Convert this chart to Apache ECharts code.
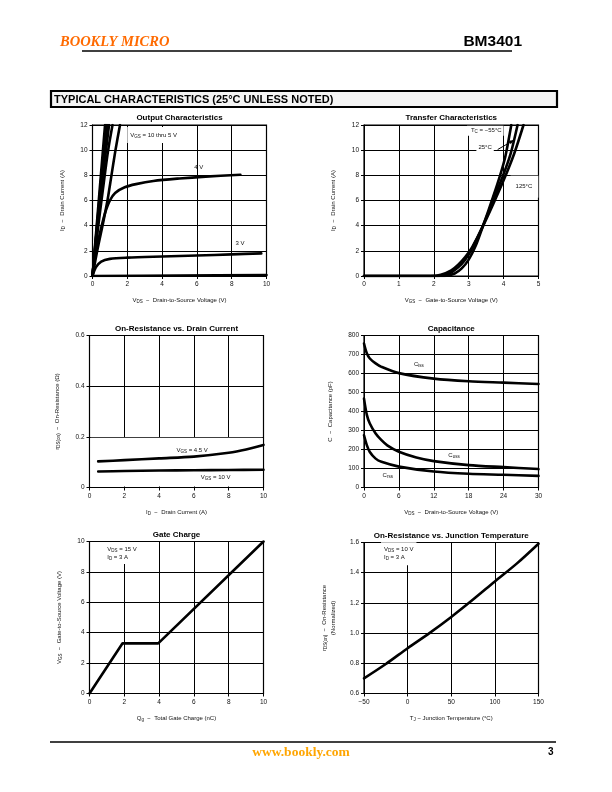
<!DOCTYPE html>
<html><head><meta charset="utf-8">
<script src="https://cdn.jsdelivr.net/npm/echarts@6/dist/echarts.min.js"></script>
<style>html,body{margin:0;padding:0;background:#fff}#c{width:612px;height:792px}</style>
</head><body><div id="c"></div>
<script>
// ================= DATA =================
// 1. Output characteristics (VDS [V], ID [A])
const outVgs10 = [[0,0],[0.72,12]];
const outVgs8  = [[0,0],[0.78,12]];
const outVgs7  = [[0,0],[0.85,12]];
const outVgs6  = [[0,0],[0.3,4.4],[0.62,8.2],[0.95,12]];
const outVgs5  = [[0,0],[0.3,3.6],[0.6,6.9],[0.9,10],[1.15,12]];
const outVgs45 = [[0,0],[0.3,2.2],[0.62,4.3],[0.86,6],[1.09,8],[1.32,10],[1.58,12]];
const outVgs4  = [[0,0],[0.2,2],[0.53,4],[0.72,5],[1.0,6],[1.3,6.6],[1.85,7.05],[2.5,7.3],[3.5,7.55],[5,7.75],[6.5,7.9],[8.5,8.05]];
const outVgs3  = [[0,0],[0.2,0.7],[0.5,1.15],[1,1.36],[2,1.46],[4,1.55],[6,1.63],[8,1.72],[9.7,1.8]];
const outVgs2  = [[0,0],[5,0.03],[10,0.07]];
// 2. Transfer characteristics (VGS [V], ID [A])
const trM55 = [[0,0],[2.3,0],[2.6,0.2],[2.8,0.6],[3.0,1.3],[3.2,2.4],[3.4,3.9],[3.7,6.3],[3.9,8.0],[4.05,9.5],[4.22,12]];
const tr25  = [[0,0],[2.1,0],[2.4,0.15],[2.7,0.7],[2.9,1.3],[3.1,2.2],[3.4,3.95],[3.7,6.0],[4.0,8.1],[4.2,9.7],[4.4,12]];
const tr125 = [[0,0],[1.9,0],[2.2,0.1],[2.5,0.45],[2.7,0.9],[2.9,1.5],[3.1,2.3],[3.4,3.9],[3.7,5.7],[4.0,7.6],[4.3,9.7],[4.57,12]];
// 3. On-resistance vs drain current (ID [A], rDS(on) [ohm])
const ronVgs45 = [[0.5,0.103],[2,0.108],[4,0.115],[6,0.122],[8,0.137],[9,0.150],[10,0.168]];
const ronVgs10 = [[0.5,0.063],[2,0.065],[4,0.067],[6,0.068],[8,0.069],[10,0.070]];
// 4. Capacitance (VDS [V], C [pF])
const cIss = [[0,758],[0.5,705],[1,679],[2,653],[3,635],[6,602],[12,573],[18,559],[24,552],[30,545]];
const cOss = [[0,468],[0.5,381],[1,337],[2,284],[3,249],[4,222],[6,188],[9,158],[12,139],[18,118],[24,107],[30,97]];
const cRss = [[0,275],[0.5,222],[1,187],[2,152],[3,135],[6,110],[12,84],[18,72],[24,67],[30,61]];
// 5. Gate charge (Qg [nC], VGS [V])
const gateCharge = [[0,0],[1.9,3.3],[3.95,3.3],[10,10]];
// 6. On-resistance vs junction temperature (TJ [C], normalized)
const ronTemp = [[-50,0.70],[-25,0.795],[0,0.90],[25,1.0],[50,1.107],[75,1.222],[100,1.342],[125,1.46],[150,1.592]];

// tick / axis settings
const xTicks = [[0,10,2],[0,5,1],[0,10,2],[0,30,6],[0,10,2],[-50,150,50]];
const yTicks = [[0,12,2],[0,12,2],[0,0.6,0.2],[0,800,100],[0,10,2],[0.6,1.6,0.2]];
const titles = ['Output Characteristics','Transfer Characteristics','On-Resistance vs. Drain Current','Capacitance','Gate Charge','On-Resistance vs. Junction Temperature'];
const xNames = [
  '{n|V}{s|DS}{n|  −  Drain-to-Source Voltage (V)}',
  '{n|V}{s|GS}{n|  −  Gate-to-Source Voltage (V)}',
  '{n|I}{s|D}{n|  −  Drain Current (A)}',
  '{n|V}{s|DS}{n|  −  Drain-to-Source Voltage (V)}',
  '{n|Q}{s|g}{n|  −  Total Gate Charge (nC)}',
  '{n|T}{s|J}{n| − Junction Temperature (°C)}'
];
const yNames = [
  '{n|I}{s|D}{n|  −  Drain Current (A)}',
  '{n|I}{s|D}{n|  −  Drain Current (A)}',
  '{n|r}{s|DS(on)}{n|  −  On-Resistance (Ω)}',
  '{n|C  −  Capacitance (pF)}',
  '{n|V}{s|GS}{n|  −  Gate-to-Source Voltage (V)}',
  '{n|r}{s|DS(on)}{n|  −  On-Resistance}\n{n|(Normalized)}'
];

// ================= LAYOUT =================
const FONT = "'Liberation Sans', Arial, Helvetica, sans-serif";
const SERIF = "'Liberation Serif', 'Times New Roman', serif";
const grids = [
  {left:92.5, top:125, width:174, height:151},
  {left:364, top:125, width:174.5, height:151},
  {left:89.5, top:335.5, width:174, height:152},
  {left:364, top:335.5, width:174.5, height:152},
  {left:89.5, top:541.5, width:174, height:152},
  {left:364, top:542.5, width:174.5, height:151}
];
const yNameGaps = [26, 26, 28, 29, 26, 26];
const rich = {
  n: {fontSize:6, fontFamily:FONT, color:'#111', lineHeight:9},
  s: {fontSize:4.5, fontFamily:FONT, color:'#111', padding:[3,0,0,0], lineHeight:6}
};
const fmtMinus = v => String(v).replace('-', '−');
const xFormatters = [null,null,null,null,null,fmtMinus];
const yFormatters = [null,null,null,null,null,v => v.toFixed(1)];

function axisCommon() {
  return {
    type:'value', nameLocation:'middle',
    nameTextStyle:{rich, fontFamily:FONT, fontSize:6, color:'#111'},
    axisLine:{show:true, onZero:false, lineStyle:{color:'#000', width:1}},
    axisTick:{show:true, length:3, lineStyle:{color:'#000', width:1}},
    axisLabel:{fontSize:6.5, color:'#111', fontFamily:FONT, margin:5},
    splitLine:{show:true, lineStyle:{color:'#000', width:1}}
  };
}
const xAxes = xTicks.map((t,i) => Object.assign(axisCommon(), {
  gridIndex:i, min:t[0], max:t[1], interval:t[2], name:xNames[i], nameGap:20,
  axisLabel:Object.assign(axisCommon().axisLabel, xFormatters[i] ? {formatter:xFormatters[i]} : {})
}));
const yAxes = yTicks.map((t,i) => Object.assign(axisCommon(), {
  gridIndex:i, min:t[0], max:t[1], interval:t[2], name:yNames[i], nameGap:yNameGaps[i],
  axisLabel:Object.assign(axisCommon().axisLabel, yFormatters[i] ? {formatter:yFormatters[i]} : {})
}));

function line(gi, data, smooth) {
  return {type:'line', xAxisIndex:gi, yAxisIndex:gi, data, symbol:'none', smooth: smooth === undefined ? 0.3 : smooth,
    lineStyle:{color:'#000', width:2.6, join:'round', cap:'round'}, z:3, silent:true, animation:false};
}
const series = [
  line(0,outVgs10,false), line(0,outVgs8,false), line(0,outVgs7,false), line(0,outVgs6), line(0,outVgs5),
  line(0,outVgs45), line(0,outVgs4), line(0,outVgs3), line(0,outVgs2),
  line(1,trM55), line(1,tr25), line(1,tr125),
  line(2,ronVgs45), line(2,ronVgs10),
  line(3,cIss), line(3,cOss), line(3,cRss),
  line(4,gateCharge,false),
  line(5,ronTemp)
];

const chart = echarts.init(document.getElementById('c'), null, {renderer:'canvas'});
chart.setOption({
  animation:false,
  backgroundColor:'#fff',
  grid: grids.map(g => Object.assign({show:true, borderColor:'#000', borderWidth:1.2, backgroundColor:'transparent'}, g)),
  xAxis:xAxes, yAxis:yAxes, series
});

// ================= ANNOTATIONS (data coords) =================
const P = (gi, x, y) => chart.convertToPixel({gridIndex:gi}, [x, y]);
const labelRich = {
  n:{fontSize:6, fontFamily:FONT, fill:'#111', lineHeight:8},
  s:{fontSize:4.5, fontFamily:FONT, fill:'#111', padding:[3,0,0,0], lineHeight:6}
};
const annotations = [
  {g:0, x:2.0, y:11.2, t:'{n|V}{s|GS}{n| = 10 thru 5 V}', bg:true, pad:[4,3,4,3]},
  {g:0, x:5.85, y:8.65, t:'{n|4 V}', bg:false},
  {g:0, x:8.1, y:2.6, t:'{n|3 V}', bg:true, pad:[3,2,3,2]},
  {g:1, x:2.95, y:11.55, t:'{n|T}{s|C}{n| = −55°C}', bg:true, pad:[1,2,1,4]},
  {g:1, x:3.22, y:10.2, t:'{n|25°C}', bg:true, pad:[1,2,1,2]},
  {g:1, x:4.2, y:7.1, t:'{n|125°C}', bg:true, pad:[7,6,7,5]},
  {g:2, x:5.0, y:0.147, t:'{n|V}{s|GS}{n| = 4.5 V}', bg:false},
  {g:2, x:6.4, y:0.042, t:'{n|V}{s|GS}{n| = 10 V}', bg:false},
  {g:3, x:8.6, y:650, t:'{n|C}{s|iss}', bg:false},
  {g:3, x:14.5, y:168, t:'{n|C}{s|oss}', bg:false},
  {g:3, x:3.2, y:62, t:'{n|C}{s|rss}', bg:false},
  {g:4, x:0.85, y:9.25, t:'{n|V}{s|DS}{n| = 15 V}\n{n|I}{s|D}{n| = 3 A}', bg:true, pad:[3,8,3,3]},
  {g:5, x:-30.5, y:1.525, t:'{n|V}{s|DS}{n| = 10 V}\n{n|I}{s|D}{n| = 3 A}', bg:true, pad:[3,3,4,3]}
];
// white cover in On-Resistance vs Drain Current chart (below 0.2 line)
const covers = [{g:2, x0:0, y0:0, x1:10, y1:0.2}];
// leader arrow for 25C label
const leaders = [{g:1, x0:3.83, y0:10.05, x1:4.3, y1:10.8}];

function buildGraphic() {
  const els = [];
  // header / footer
  els.push({type:'text', x:60, y:42, style:{text:'BOOKLY MICRO', font:'bold italic 14.5px ' + SERIF, fill:'#FF6A00', textVerticalAlign:'middle'}});
  els.push({type:'text', x:522, y:42, style:{text:'BM3401', font:'bold 15.5px ' + FONT, fill:'#000', textAlign:'right', textVerticalAlign:'middle'}});
  els.push({type:'line', shape:{x1:82, y1:51, x2:512, y2:51}, style:{stroke:'#000', lineWidth:1.3}});
  els.push({type:'rect', shape:{x:51, y:91, width:506, height:16}, style:{fill:'#f4f4f4', stroke:'#000', lineWidth:2.2}});
  els.push({type:'text', x:54, y:99.5, style:{text:'TYPICAL CHARACTERISTICS (25°C UNLESS NOTED)', font:'900 11px ' + FONT, fill:'#000', textVerticalAlign:'middle'}});
  els.push({type:'line', shape:{x1:50, y1:742, x2:556, y2:742}, style:{stroke:'#000', lineWidth:1.3}});
  els.push({type:'text', x:301, y:753, style:{text:'www.bookly.com', font:'bold 13.5px ' + SERIF, fill:'#FFA500', textAlign:'center', textVerticalAlign:'middle'}});
  els.push({type:'text', x:548, y:752, style:{text:'3', font:'bold 10px ' + FONT, fill:'#000', textAlign:'left', textVerticalAlign:'middle'}});
  // chart titles
  grids.forEach((g,i) => {
    els.push({type:'text', x:g.left + g.width/2, y:g.top - 7, style:{text:titles[i], font:'bold 8px ' + FONT, fill:'#000', textAlign:'center', textVerticalAlign:'middle'}});
  });
  // covers
  covers.forEach(c => {
    const a = P(c.g, c.x0, c.y0), b = P(c.g, c.x1, c.y1);
    els.push({type:'rect', z:1, shape:{x:a[0]+1, y:b[1]+1, width:b[0]-a[0]-2, height:a[1]-b[1]-2}, style:{fill:'#fff'}});
  });
  // labels
  annotations.forEach(a => {
    const p = P(a.g, a.x, a.y);
    const st = {text:a.t, rich:labelRich, textVerticalAlign:'middle', textAlign:'left'};
    if (a.bg) { st.backgroundColor = '#fff'; st.padding = a.pad; }
    els.push({type:'text', z:1, x:p[0], y:p[1], style:st});
  });
  // leader arrows
  leaders.forEach(l => {
    const a = P(l.g, l.x0, l.y0), b = P(l.g, l.x1, l.y1);
    els.push({type:'line', z:4, shape:{x1:a[0], y1:a[1], x2:b[0], y2:b[1]}, style:{stroke:'#000', lineWidth:1}});
    const ang = Math.atan2(b[1]-a[1], b[0]-a[0]), L = 5, Wd = 2;
    const bx = b[0] - L*Math.cos(ang), by = b[1] - L*Math.sin(ang);
    els.push({type:'polygon', z:4, shape:{points:[[b[0],b[1]],[bx - Wd*Math.sin(ang), by + Wd*Math.cos(ang)],[bx + Wd*Math.sin(ang), by - Wd*Math.cos(ang)]]}, style:{fill:'#000'}});
  });
  return els;
}
chart.setOption({graphic:{elements:buildGraphic()}});
</script></body></html>
